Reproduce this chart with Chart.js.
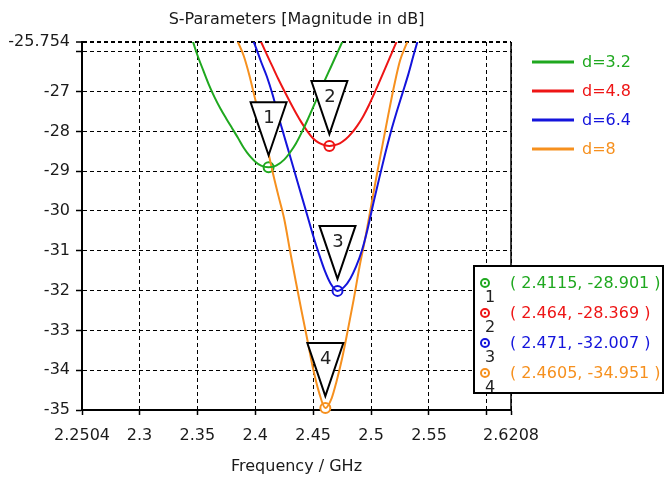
<!DOCTYPE html>
<html>
<head>
<meta charset="utf-8">
<title>S-Parameters [Magnitude in dB]</title>
<script src="https://cdn.jsdelivr.net/npm/chart.js@4.4.1/dist/chart.umd.min.js"></script>
<style>
  html, body { margin: 0; padding: 0; background: #fff; }
  #wrap { width: 666px; height: 478px; }
</style>
</head>
<body>
<div id="wrap"><canvas id="chart" width="666" height="478"></canvas></div>
<script>
// |S11| sweeps (dB) for four values of the spacing d
const seriesNames = ['d=3.2', 'd=4.8', 'd=6.4', 'd=8'];
const chartTitle = 'S-Parameters [Magnitude in dB]';

const freqD32 = [2.340, 2.345, 2.350, 2.355, 2.360, 2.365, 2.370, 2.375, 2.380, 2.385, 2.390, 2.395, 2.400, 2.405, 2.4115, 2.418, 2.425, 2.430, 2.435, 2.440, 2.445, 2.450, 2.455, 2.460, 2.465, 2.470, 2.475, 2.480];
const magD32  = [-25.10, -25.63, -26.08, -26.46, -26.83, -27.15, -27.43, -27.68, -27.92, -28.16, -28.41, -28.61, -28.76, -28.86, -28.901, -28.86, -28.71, -28.53, -28.31, -28.03, -27.72, -27.39, -27.05, -26.72, -26.40, -26.08, -25.76, -25.44];

const freqD48 = [2.400, 2.405, 2.410, 2.415, 2.420, 2.425, 2.430, 2.435, 2.440, 2.445, 2.450, 2.455, 2.460, 2.464, 2.468, 2.473, 2.478, 2.483, 2.488, 2.493, 2.498, 2.503, 2.508, 2.513, 2.518, 2.523, 2.528];
const magD48  = [-25.42, -25.75, -26.07, -26.38, -26.69, -26.98, -27.26, -27.53, -27.78, -28.00, -28.18, -28.29, -28.35, -28.369, -28.35, -28.30, -28.20, -28.05, -27.86, -27.63, -27.35, -27.03, -26.70, -26.36, -26.02, -25.68, -25.34];

const freqD64 = [2.395, 2.400, 2.405, 2.410, 2.415, 2.420, 2.425, 2.430, 2.435, 2.440, 2.445, 2.450, 2.455, 2.460, 2.465, 2.471, 2.477, 2.482, 2.487, 2.492, 2.497, 2.502, 2.507, 2.512, 2.517, 2.522, 2.527, 2.532, 2.537, 2.542];
const magD64  = [-25.50, -25.85, -26.25, -26.62, -27.08, -27.62, -28.12, -28.62, -29.12, -29.62, -30.12, -30.62, -31.08, -31.50, -31.82, -32.007, -31.90, -31.70, -31.40, -31.00, -30.45, -29.80, -29.18, -28.58, -28.02, -27.52, -27.05, -26.58, -26.05, -25.55];

const freqD8 = [2.380, 2.385, 2.390, 2.395, 2.400, 2.405, 2.410, 2.415, 2.420, 2.425, 2.430, 2.435, 2.440, 2.445, 2.450, 2.455, 2.4605, 2.466, 2.470, 2.475, 2.480, 2.485, 2.490, 2.495, 2.500, 2.505, 2.510, 2.515, 2.520, 2.525, 2.530, 2.535];
const magD8  = [-25.40, -25.75, -26.10, -26.60, -27.20, -27.78, -28.36, -29.02, -29.62, -30.20, -31.00, -31.77, -32.52, -33.24, -33.97, -34.55, -34.951, -34.70, -34.30, -33.70, -32.98, -32.22, -31.40, -30.68, -29.88, -29.08, -28.32, -27.56, -26.84, -26.22, -25.84, -25.50];

// Curve minima markers
const markerLabels = ['1', '2', '3', '4'];
const markerFreq = [2.4115, 2.464, 2.471, 2.4605];
const markerMag  = [-28.901, -28.369, -32.007, -34.951];

// Axis ticks
const xTickValues = [2.2504, 2.3, 2.35, 2.4, 2.45, 2.5, 2.55, 2.6, 2.6208];
const xTickLabels = ['2.2504', '2.3', '2.35', '2.4', '2.45', '2.5', '2.55', '', '2.6208'];
const yTickValues = [-35, -34, -33, -32, -31, -30, -29, -28, -27, -26, -25.754];
const yTickLabels = ['-35', '-34', '-33', '-32', '-31', '-30', '-29', '-28', '-27', '', '-25.754'];

const colors = ['#1fa81f', '#ee1515', '#1414dc', '#f6901e'];
const FONT = '"DejaVu Sans", Verdana, sans-serif';
const TEXT = '#1a1a1a';

const curves = [
  [freqD32, magD32],
  [freqD48, magD48],
  [freqD64, magD64],
  [freqD8, magD8]
];

const datasets = curves.map(([f, m], i) => ({
  label: seriesNames[i],
  data: f.map((v, j) => ({ x: v, y: m[j] })),
  borderColor: colors[i],
  borderWidth: 2,
  pointRadius: 0,
  pointHoverRadius: 0,
  fill: false,
  cubicInterpolationMode: 'monotone',
  clip: 0
}));

// marker rings and their centre dots
datasets.push({
  label: 'markers',
  data: markerFreq.map((f, i) => ({ x: f, y: markerMag[i] })),
  showLine: false,
  pointRadius: 5,
  pointHoverRadius: 5,
  pointBorderWidth: 2,
  pointBorderColor: colors,
  pointBackgroundColor: '#fff',
  clip: false
});
datasets.push({
  label: 'marker centres',
  data: markerFreq.map((f, i) => ({ x: f, y: markerMag[i] })),
  showLine: false,
  pointRadius: 1.3,
  pointHoverRadius: 1.3,
  pointBorderWidth: 0,
  pointBackgroundColor: colors,
  clip: false
});

const decorations = {
  id: 'decorations',
  afterDatasetsDraw(chart) {
    const { ctx, chartArea: a, scales: { x, y } } = chart;
    ctx.save();
    // solid right frame of the plot
    ctx.strokeStyle = '#000';
    ctx.lineWidth = 1.5;
    ctx.setLineDash([]);
    ctx.beginPath();
    ctx.moveTo(a.right, a.top);
    ctx.lineTo(a.right, a.bottom);
    ctx.stroke();

    // numbered triangle flags above each marker
    markerFreq.forEach((f, i) => {
      const px = x.getPixelForValue(f);
      const py = y.getPixelForValue(markerMag[i]);
      const apex = py - 12;
      const top = apex - 53;
      ctx.beginPath();
      ctx.moveTo(px - 18, top);
      ctx.lineTo(px + 18, top);
      ctx.lineTo(px, apex);
      ctx.closePath();
      ctx.fillStyle = '#fff';
      ctx.fill();
      ctx.lineWidth = 2;
      ctx.lineJoin = 'miter';
      ctx.strokeStyle = '#000';
      ctx.stroke();
      ctx.fillStyle = '#222';
      ctx.font = '18px ' + FONT;
      ctx.textAlign = 'center';
      ctx.textBaseline = 'middle';
      ctx.fillText(markerLabels[i], px + 0.5, top + 16);
    });
    ctx.restore();
  },
  afterDraw(chart) {
    const { ctx, chartArea: a } = chart;
    ctx.save();
    ctx.setLineDash([]);

    // title centred over the plot area
    ctx.fillStyle = TEXT;
    ctx.font = '16px ' + FONT;
    ctx.textAlign = 'center';
    ctx.textBaseline = 'middle';
    ctx.fillText(chartTitle, (a.left + a.right) / 2, 20);

    // series legend
    const lx = a.right + 21;
    seriesNames.forEach((name, i) => {
      const ly = 62 + i * 29;
      ctx.strokeStyle = colors[i];
      ctx.lineWidth = 3;
      ctx.beginPath();
      ctx.moveTo(lx, ly);
      ctx.lineTo(lx + 42, ly);
      ctx.stroke();
      ctx.fillStyle = colors[i];
      ctx.font = '16px ' + FONT;
      ctx.textAlign = 'left';
      ctx.textBaseline = 'middle';
      ctx.fillText(name, lx + 50, ly + 1);
    });

    // marker readout box
    const bx = a.right - 37, by = 266, bw = 189, bh = 127;
    ctx.fillStyle = '#fff';
    ctx.fillRect(bx, by, bw, bh);
    ctx.strokeStyle = '#000';
    ctx.lineWidth = 2;
    ctx.strokeRect(bx, by, bw, bh);
    markerFreq.forEach((f, i) => {
      const ry = by + 17 + i * 30;
      const ix = bx + 11;
      ctx.beginPath();
      ctx.arc(ix, ry, 4, 0, Math.PI * 2);
      ctx.fillStyle = '#fff';
      ctx.fill();
      ctx.lineWidth = 2;
      ctx.strokeStyle = colors[i];
      ctx.stroke();
      ctx.beginPath();
      ctx.arc(ix, ry, 1.2, 0, Math.PI * 2);
      ctx.fillStyle = colors[i];
      ctx.fill();
      ctx.fillStyle = '#222';
      ctx.font = '16px ' + FONT;
      ctx.textAlign = 'center';
      ctx.textBaseline = 'middle';
      ctx.fillText(markerLabels[i], ix + 5, ry + 15);
      ctx.fillStyle = colors[i];
      ctx.textAlign = 'left';
      ctx.fillText('( ' + f + ', ' + markerMag[i] + ' )', bx + 36, ry + 1);
    });
    ctx.restore();
  }
};

new Chart(document.getElementById('chart'), {
  type: 'line',
  data: { datasets },
  plugins: [decorations],
  options: {
    responsive: false,
    devicePixelRatio: 1,
    animation: false,
    events: [],
    layout: { padding: { left: 0, right: 155, top: 42, bottom: 0 } },
    plugins: {
      legend: { display: false },
      tooltip: { enabled: false },
      title: { display: false }
    },
    scales: {
      x: {
        type: 'linear',
        min: 2.2504,
        max: 2.6208,
        afterBuildTicks: s => { s.ticks = xTickValues.map(v => ({ value: v })); },
        afterFit: s => { s.height = 68; },
        ticks: {
          callback: (v, i) => xTickLabels[i],
          autoSkip: false,
          maxRotation: 0,
          padding: 11,
          color: TEXT,
          font: { family: FONT, size: 16 }
        },
        grid: {
          color: '#000',
          lineWidth: 1,
          tickLength: 5,
          tickColor: '#000',
          tickWidth: 1.5,
          tickBorderDash: []
        },
        border: { display: true, color: '#000', width: 2, dash: [4, 3] },
        title: {
          display: true,
          text: 'Frequency / GHz',
          color: TEXT,
          font: { family: FONT, size: 16 },
          padding: { top: 0, bottom: 2 }
        }
      },
      y: {
        type: 'linear',
        min: -35,
        max: -25.754,
        afterBuildTicks: s => { s.ticks = yTickValues.map(v => ({ value: v })); },
        afterFit: s => { s.width = 82; },
        ticks: {
          callback: (v, i) => yTickLabels[i],
          autoSkip: false,
          padding: 6,
          color: TEXT,
          font: { family: FONT, size: 16 }
        },
        grid: {
          color: '#000',
          lineWidth: c => (c.tick && c.tick.value === -25.754 ? 2 : 1),
          tickLength: 6,
          tickColor: '#000',
          tickWidth: 1.5,
          tickBorderDash: []
        },
        border: { display: true, color: '#000', width: 2, dash: [4, 3] }
      }
    }
  }
});
</script>
</body>
</html>
